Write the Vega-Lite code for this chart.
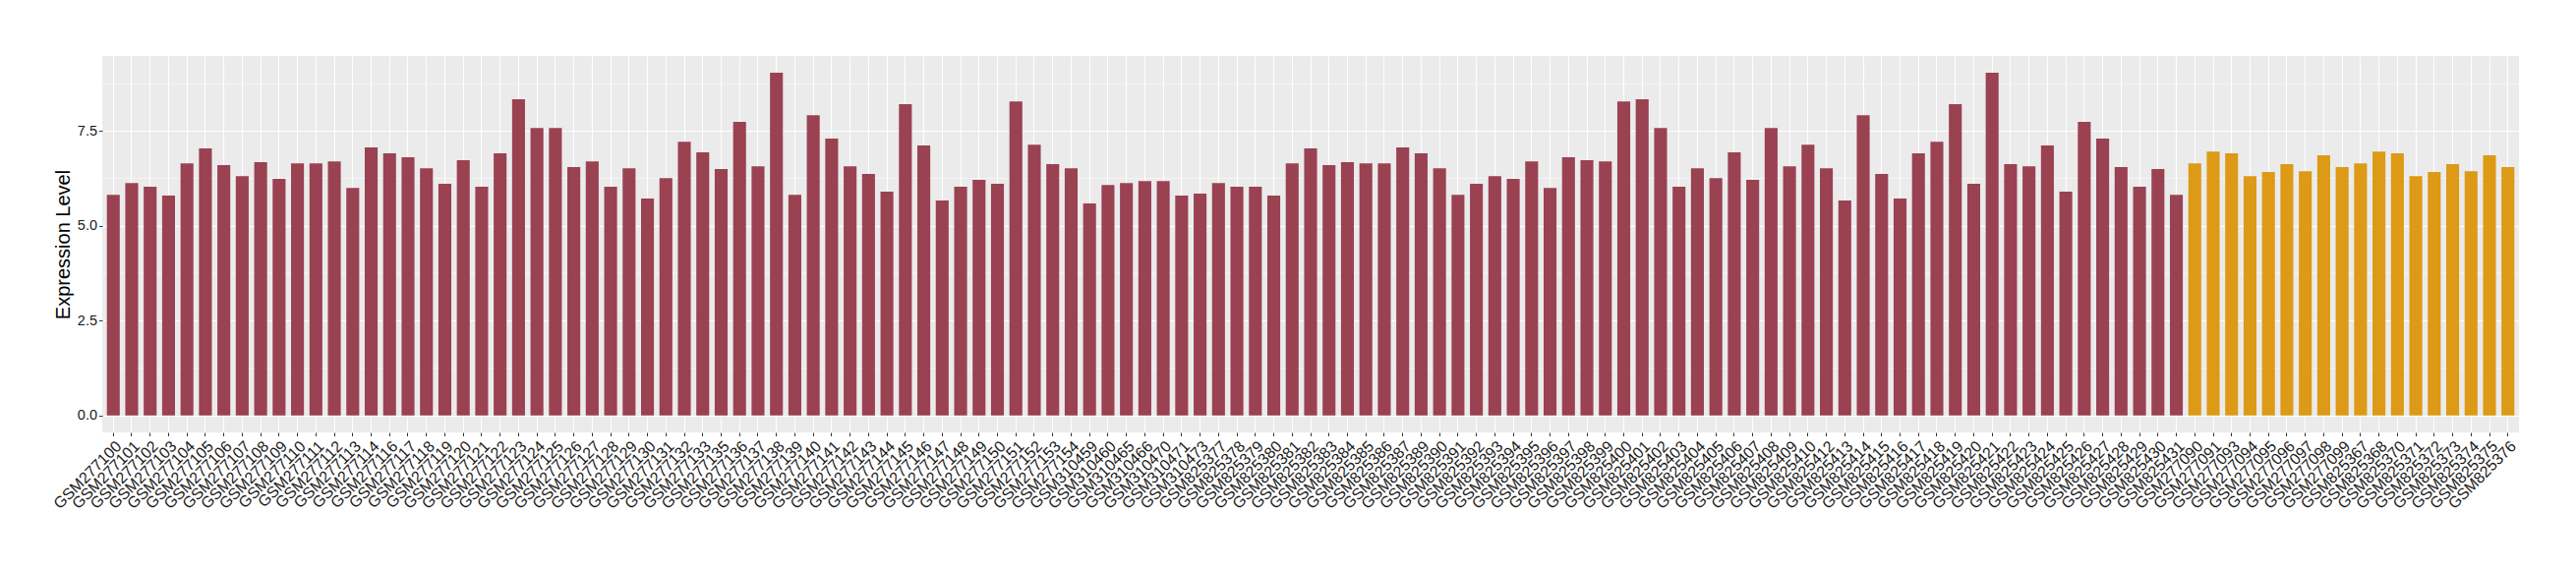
{
  "$schema": "https://vega.github.io/schema/vega-lite/v6.json",
  "autosize": {"type": "none"},
  "width": 2458,
  "height": 383,
  "padding": {"left": 104, "top": 57, "right": 58, "bottom": 140},
  "background": "white",
  "config": {
    "view": {"fill": "#EBEBEB", "stroke": null},
    "font": "Liberation Sans"
  },
  "datasets": {
    "minor": [{"v": 1.25}, {"v": 3.75}, {"v": 6.25}, {"v": 8.75}],
    "samples": [
      {"sample": "GSM277100", "value": 5.82, "group": "A"},
      {"sample": "GSM277101", "value": 6.13, "group": "A"},
      {"sample": "GSM277102", "value": 6.03, "group": "A"},
      {"sample": "GSM277103", "value": 5.80, "group": "A"},
      {"sample": "GSM277104", "value": 6.65, "group": "A"},
      {"sample": "GSM277105", "value": 7.04, "group": "A"},
      {"sample": "GSM277106", "value": 6.60, "group": "A"},
      {"sample": "GSM277107", "value": 6.31, "group": "A"},
      {"sample": "GSM277108", "value": 6.68, "group": "A"},
      {"sample": "GSM277109", "value": 6.24, "group": "A"},
      {"sample": "GSM277110", "value": 6.65, "group": "A"},
      {"sample": "GSM277111", "value": 6.65, "group": "A"},
      {"sample": "GSM277112", "value": 6.70, "group": "A"},
      {"sample": "GSM277113", "value": 6.00, "group": "A"},
      {"sample": "GSM277114", "value": 7.07, "group": "A"},
      {"sample": "GSM277116", "value": 6.91, "group": "A"},
      {"sample": "GSM277117", "value": 6.81, "group": "A"},
      {"sample": "GSM277118", "value": 6.52, "group": "A"},
      {"sample": "GSM277119", "value": 6.11, "group": "A"},
      {"sample": "GSM277120", "value": 6.73, "group": "A"},
      {"sample": "GSM277121", "value": 6.03, "group": "A"},
      {"sample": "GSM277122", "value": 6.91, "group": "A"},
      {"sample": "GSM277123", "value": 8.34, "group": "A"},
      {"sample": "GSM277124", "value": 7.58, "group": "A"},
      {"sample": "GSM277125", "value": 7.58, "group": "A"},
      {"sample": "GSM277126", "value": 6.55, "group": "A"},
      {"sample": "GSM277127", "value": 6.70, "group": "A"},
      {"sample": "GSM277128", "value": 6.03, "group": "A"},
      {"sample": "GSM277129", "value": 6.52, "group": "A"},
      {"sample": "GSM277130", "value": 5.72, "group": "A"},
      {"sample": "GSM277131", "value": 6.26, "group": "A"},
      {"sample": "GSM277132", "value": 7.22, "group": "A"},
      {"sample": "GSM277133", "value": 6.94, "group": "A"},
      {"sample": "GSM277135", "value": 6.50, "group": "A"},
      {"sample": "GSM277136", "value": 7.74, "group": "A"},
      {"sample": "GSM277137", "value": 6.57, "group": "A"},
      {"sample": "GSM277138", "value": 9.04, "group": "A"},
      {"sample": "GSM277139", "value": 5.82, "group": "A"},
      {"sample": "GSM277140", "value": 7.92, "group": "A"},
      {"sample": "GSM277141", "value": 7.30, "group": "A"},
      {"sample": "GSM277142", "value": 6.57, "group": "A"},
      {"sample": "GSM277143", "value": 6.37, "group": "A"},
      {"sample": "GSM277144", "value": 5.90, "group": "A"},
      {"sample": "GSM277145", "value": 8.21, "group": "A"},
      {"sample": "GSM277146", "value": 7.12, "group": "A"},
      {"sample": "GSM277147", "value": 5.67, "group": "A"},
      {"sample": "GSM277148", "value": 6.03, "group": "A"},
      {"sample": "GSM277149", "value": 6.21, "group": "A"},
      {"sample": "GSM277150", "value": 6.11, "group": "A"},
      {"sample": "GSM277151", "value": 8.28, "group": "A"},
      {"sample": "GSM277152", "value": 7.14, "group": "A"},
      {"sample": "GSM277153", "value": 6.63, "group": "A"},
      {"sample": "GSM277154", "value": 6.52, "group": "A"},
      {"sample": "GSM310459", "value": 5.59, "group": "A"},
      {"sample": "GSM310460", "value": 6.08, "group": "A"},
      {"sample": "GSM310465", "value": 6.13, "group": "A"},
      {"sample": "GSM310466", "value": 6.18, "group": "A"},
      {"sample": "GSM310470", "value": 6.18, "group": "A"},
      {"sample": "GSM310471", "value": 5.80, "group": "A"},
      {"sample": "GSM310473", "value": 5.85, "group": "A"},
      {"sample": "GSM825377", "value": 6.13, "group": "A"},
      {"sample": "GSM825378", "value": 6.03, "group": "A"},
      {"sample": "GSM825379", "value": 6.03, "group": "A"},
      {"sample": "GSM825380", "value": 5.80, "group": "A"},
      {"sample": "GSM825381", "value": 6.65, "group": "A"},
      {"sample": "GSM825382", "value": 7.04, "group": "A"},
      {"sample": "GSM825383", "value": 6.60, "group": "A"},
      {"sample": "GSM825384", "value": 6.68, "group": "A"},
      {"sample": "GSM825385", "value": 6.65, "group": "A"},
      {"sample": "GSM825386", "value": 6.65, "group": "A"},
      {"sample": "GSM825387", "value": 7.07, "group": "A"},
      {"sample": "GSM825389", "value": 6.91, "group": "A"},
      {"sample": "GSM825390", "value": 6.52, "group": "A"},
      {"sample": "GSM825391", "value": 5.82, "group": "A"},
      {"sample": "GSM825392", "value": 6.11, "group": "A"},
      {"sample": "GSM825393", "value": 6.31, "group": "A"},
      {"sample": "GSM825394", "value": 6.24, "group": "A"},
      {"sample": "GSM825395", "value": 6.70, "group": "A"},
      {"sample": "GSM825396", "value": 6.00, "group": "A"},
      {"sample": "GSM825397", "value": 6.81, "group": "A"},
      {"sample": "GSM825398", "value": 6.73, "group": "A"},
      {"sample": "GSM825399", "value": 6.70, "group": "A"},
      {"sample": "GSM825400", "value": 8.28, "group": "A"},
      {"sample": "GSM825401", "value": 8.34, "group": "A"},
      {"sample": "GSM825402", "value": 7.58, "group": "A"},
      {"sample": "GSM825403", "value": 6.03, "group": "A"},
      {"sample": "GSM825404", "value": 6.52, "group": "A"},
      {"sample": "GSM825405", "value": 6.26, "group": "A"},
      {"sample": "GSM825406", "value": 6.94, "group": "A"},
      {"sample": "GSM825407", "value": 6.21, "group": "A"},
      {"sample": "GSM825408", "value": 7.58, "group": "A"},
      {"sample": "GSM825409", "value": 6.57, "group": "A"},
      {"sample": "GSM825410", "value": 7.14, "group": "A"},
      {"sample": "GSM825412", "value": 6.52, "group": "A"},
      {"sample": "GSM825413", "value": 5.67, "group": "A"},
      {"sample": "GSM825414", "value": 7.92, "group": "A"},
      {"sample": "GSM825415", "value": 6.37, "group": "A"},
      {"sample": "GSM825416", "value": 5.72, "group": "A"},
      {"sample": "GSM825417", "value": 6.91, "group": "A"},
      {"sample": "GSM825418", "value": 7.22, "group": "A"},
      {"sample": "GSM825419", "value": 8.21, "group": "A"},
      {"sample": "GSM825420", "value": 6.11, "group": "A"},
      {"sample": "GSM825421", "value": 9.04, "group": "A"},
      {"sample": "GSM825422", "value": 6.63, "group": "A"},
      {"sample": "GSM825423", "value": 6.57, "group": "A"},
      {"sample": "GSM825424", "value": 7.12, "group": "A"},
      {"sample": "GSM825425", "value": 5.90, "group": "A"},
      {"sample": "GSM825426", "value": 7.74, "group": "A"},
      {"sample": "GSM825427", "value": 7.30, "group": "A"},
      {"sample": "GSM825428", "value": 6.55, "group": "A"},
      {"sample": "GSM825429", "value": 6.03, "group": "A"},
      {"sample": "GSM825430", "value": 6.50, "group": "A"},
      {"sample": "GSM825431", "value": 5.82, "group": "A"},
      {"sample": "GSM277090", "value": 6.65, "group": "B"},
      {"sample": "GSM277091", "value": 6.96, "group": "B"},
      {"sample": "GSM277093", "value": 6.91, "group": "B"},
      {"sample": "GSM277094", "value": 6.31, "group": "B"},
      {"sample": "GSM277095", "value": 6.42, "group": "B"},
      {"sample": "GSM277096", "value": 6.63, "group": "B"},
      {"sample": "GSM277097", "value": 6.44, "group": "B"},
      {"sample": "GSM277098", "value": 6.86, "group": "B"},
      {"sample": "GSM277099", "value": 6.55, "group": "B"},
      {"sample": "GSM825367", "value": 6.65, "group": "B"},
      {"sample": "GSM825368", "value": 6.96, "group": "B"},
      {"sample": "GSM825370", "value": 6.91, "group": "B"},
      {"sample": "GSM825371", "value": 6.31, "group": "B"},
      {"sample": "GSM825372", "value": 6.42, "group": "B"},
      {"sample": "GSM825373", "value": 6.63, "group": "B"},
      {"sample": "GSM825374", "value": 6.44, "group": "B"},
      {"sample": "GSM825375", "value": 6.86, "group": "B"},
      {"sample": "GSM825376", "value": 6.55, "group": "B"}
    ]
  },
  "layer": [
    {
      "data": {"name": "minor"},
      "mark": {"type": "rule", "color": "white", "strokeWidth": 0.6},
      "encoding": {
        "y": {"field": "v", "type": "quantitative", "scale": {"domain": [-0.45, 9.48], "nice": false, "zero": false}}
      }
    },
    {
      "data": {"name": "samples"},
      "mark": {"type": "bar"},
      "encoding": {
        "x": {
          "field": "sample",
          "type": "nominal",
          "sort": null,
          "scale": {"paddingInner": 0.3, "paddingOuter": 0.25},
          "axis": {
            "title": null,
            "labelAngle": -45,
            "labelAlign": "right",
            "labelBaseline": "top",
            "labelFontSize": 16,
            "labelColor": "#1a1a1a",
            "labelFont": "Liberation Sans",
            "labelPadding": 2,
            "labelOverlap": false,
            "labelBound": false,
            "tickSize": 3.5,
            "tickColor": "#333333",
            "tickWidth": 1,
            "domain": false,
            "grid": true,
            "gridColor": "white",
            "gridWidth": 1.1,
            "bandPosition": 0.5
          }
        },
        "y": {
          "field": "value",
          "type": "quantitative",
          "scale": {"domain": [-0.45, 9.48], "nice": false, "zero": false},
          "axis": {
            "title": "Expression Level",
            "titleFontSize": 20,
            "titleFont": "Liberation Sans",
            "titleFontWeight": "normal",
            "titleColor": "black",
            "titlePadding": 4,
            "values": [0, 2.5, 5, 7.5],
            "format": ".1f",
            "labelFontSize": 14.5,
            "labelColor": "#1a1a1a",
            "labelFont": "Liberation Sans",
            "labelPadding": 2,
            "tickSize": 3.5,
            "tickColor": "#333333",
            "domain": false,
            "grid": true,
            "gridColor": "white",
            "gridWidth": 1.1
          }
        },
        "y2": {"datum": 0},
        "color": {
          "field": "group",
          "type": "nominal",
          "scale": {"domain": ["A", "B"], "range": ["#9A4252", "#DC9A16"]},
          "legend": null
        }
      }
    }
  ]
}
